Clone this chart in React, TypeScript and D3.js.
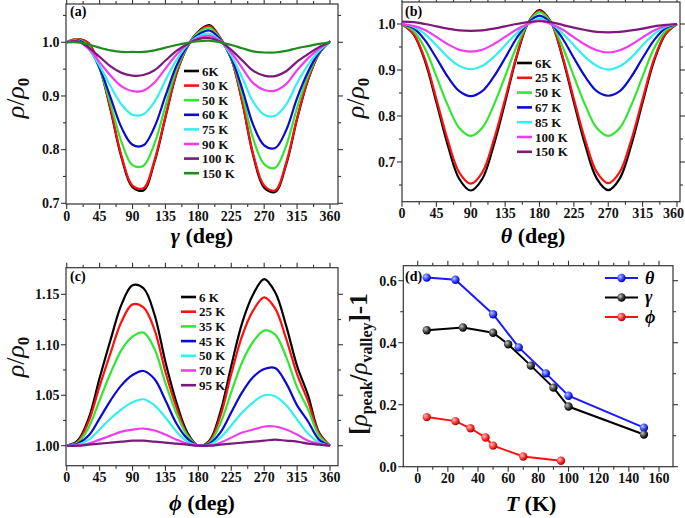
import React from 'react';
import * as d3 from 'd3';

// ---------- DATA ----------
const ANGLES = [0, 15, 30, 45, 60, 75, 90, 105, 120, 135, 150, 165, 180, 195, 210, 225, 240, 255, 270, 285, 300, 315, 330, 345, 360];
const ANGLE_TICKS = [0, 45, 90, 135, 180, 225, 270, 315, 360];
const ANGLE_MINOR = [22.5, 67.5, 112.5, 157.5, 202.5, 247.5, 292.5, 337.5];

// panel (a): rho/rho0 vs gamma
const A_LABELS = ['6K', '30 K', '50 K', '60 K', '75 K', '90 K', '100 K', '150 K'];
const A_COLORS = ['#000000', '#ff1010', '#33e633', '#0a0ad2', '#33f0f0', '#f03cf0', '#7a1a7a', '#1e8c1e'];
const a6 = [1.000, 1.006, 0.998, 0.953, 0.874, 0.785, 0.730, 0.724, 0.777, 0.860, 0.941, 0.992, 1.020, 1.032, 1.008, 0.969, 0.889, 0.789, 0.729, 0.721, 0.772, 0.857, 0.930, 0.979, 1.002];
const a30 = [1.000, 1.006, 0.998, 0.954, 0.876, 0.788, 0.733, 0.728, 0.780, 0.862, 0.942, 0.992, 1.019, 1.030, 1.008, 0.969, 0.890, 0.792, 0.733, 0.724, 0.775, 0.859, 0.931, 0.979, 1.002];
const a50 = [1.000, 1.005, 0.993, 0.951, 0.885, 0.814, 0.771, 0.770, 0.811, 0.881, 0.949, 0.992, 1.018, 1.027, 1.006, 0.970, 0.902, 0.820, 0.773, 0.766, 0.807, 0.878, 0.938, 0.980, 1.002];
const a60 = [1.000, 1.004, 0.990, 0.952, 0.897, 0.841, 0.809, 0.808, 0.842, 0.900, 0.956, 0.993, 1.014, 1.022, 1.005, 0.971, 0.913, 0.846, 0.808, 0.803, 0.836, 0.896, 0.945, 0.981, 1.002];
const a75 = [1.000, 1.003, 0.987, 0.956, 0.918, 0.884, 0.865, 0.866, 0.889, 0.929, 0.967, 0.995, 1.011, 1.016, 1.003, 0.975, 0.934, 0.889, 0.865, 0.863, 0.884, 0.924, 0.958, 0.984, 1.001];
const a90 = [1.000, 1.002, 0.988, 0.963, 0.938, 0.918, 0.909, 0.910, 0.925, 0.951, 0.977, 0.996, 1.008, 1.012, 1.002, 0.981, 0.952, 0.924, 0.911, 0.910, 0.922, 0.948, 0.970, 0.988, 1.001];
const a100 = [1.000, 1.002, 0.990, 0.973, 0.955, 0.943, 0.938, 0.939, 0.948, 0.966, 0.984, 0.997, 1.006, 1.008, 1.001, 0.986, 0.966, 0.947, 0.938, 0.937, 0.946, 0.964, 0.978, 0.991, 1.000];
const a150 = [1.000, 1.000, 0.996, 0.990, 0.985, 0.982, 0.982, 0.982, 0.985, 0.990, 0.995, 0.999, 1.002, 1.003, 1.000, 0.995, 0.989, 0.983, 0.981, 0.981, 0.984, 0.989, 0.993, 0.997, 1.000];
const A_VALUES = [a6, a30, a50, a60, a75, a90, a100, a150];
const A_YTICKS = [0.7, 0.8, 0.9, 1.0];
const A_YMINOR = [0.75, 0.85, 0.95, 1.05];

// panel (b): rho/rho0 vs theta
const B_LABELS = ['6K', '25 K', '50 K', '67 K', '85 K', '100 K', '150 K'];
const B_COLORS = ['#000000', '#ff1010', '#33e633', '#0a0ad2', '#33f0f0', '#f03cf0', '#7a1a7a'];
const b6 = [1.000, 0.978, 0.920, 0.830, 0.736, 0.663, 0.638, 0.663, 0.736, 0.830, 0.928, 1.002, 1.030, 1.004, 0.928, 0.830, 0.736, 0.664, 0.639, 0.664, 0.736, 0.830, 0.920, 0.978, 1.000];
const b25 = [1.000, 0.979, 0.924, 0.837, 0.747, 0.677, 0.653, 0.677, 0.747, 0.837, 0.931, 1.003, 1.028, 1.004, 0.931, 0.837, 0.747, 0.678, 0.654, 0.678, 0.747, 0.837, 0.924, 0.979, 1.000];
const b50 = [1.000, 0.985, 0.947, 0.886, 0.823, 0.774, 0.757, 0.774, 0.823, 0.886, 0.951, 1.002, 1.026, 1.003, 0.951, 0.886, 0.823, 0.774, 0.757, 0.774, 0.823, 0.886, 0.947, 0.985, 1.000];
const b67 = [1.000, 0.991, 0.965, 0.926, 0.885, 0.854, 0.843, 0.854, 0.885, 0.926, 0.969, 1.002, 1.018, 1.002, 0.969, 0.926, 0.885, 0.854, 0.844, 0.854, 0.885, 0.926, 0.965, 0.991, 1.000];
const b85 = [1.000, 0.994, 0.978, 0.954, 0.928, 0.909, 0.902, 0.909, 0.928, 0.954, 0.980, 1.001, 1.012, 1.001, 0.980, 0.954, 0.928, 0.909, 0.901, 0.908, 0.927, 0.954, 0.978, 0.994, 1.000];
const b100 = [1.000, 0.996, 0.987, 0.972, 0.956, 0.944, 0.940, 0.944, 0.956, 0.972, 0.988, 1.000, 1.008, 1.000, 0.988, 0.971, 0.955, 0.943, 0.938, 0.943, 0.955, 0.971, 0.986, 0.996, 1.000];
const b150 = [1.005, 1.004, 1.000, 0.995, 0.990, 0.986, 0.985, 0.986, 0.990, 0.995, 1.000, 1.004, 1.006, 1.004, 0.998, 0.992, 0.987, 0.983, 0.982, 0.983, 0.986, 0.990, 0.995, 0.998, 1.000];
const B_VALUES = [b6, b25, b50, b67, b85, b100, b150];
const B_YTICKS = [0.7, 0.8, 0.9, 1.0];
const B_YMINOR = [0.65, 0.75, 0.85, 0.95];

// panel (c): rho/rho0 vs phi
const C_LABELS = ['6 K', '25 K', '35 K', '45 K', '50 K', '70 K', '95 K'];
const C_COLORS = ['#000000', '#ff1010', '#33e633', '#0a0ad2', '#33f0f0', '#f03cf0', '#7a1a7a'];
const c6 = [1.000, 1.005, 1.027, 1.067, 1.105, 1.140, 1.159, 1.156, 1.130, 1.083, 1.043, 1.013, 1.000, 1.005, 1.033, 1.079, 1.122, 1.150, 1.165, 1.152, 1.119, 1.079, 1.050, 1.013, 1.000];
const c25 = [1.000, 1.004, 1.024, 1.059, 1.092, 1.123, 1.140, 1.137, 1.115, 1.073, 1.038, 1.011, 1.000, 1.004, 1.029, 1.071, 1.109, 1.134, 1.147, 1.136, 1.106, 1.071, 1.044, 1.012, 1.000];
const c35 = [1.000, 1.003, 1.018, 1.045, 1.072, 1.095, 1.108, 1.112, 1.096, 1.062, 1.032, 1.010, 1.000, 1.003, 1.022, 1.053, 1.083, 1.103, 1.114, 1.110, 1.088, 1.058, 1.036, 1.010, 1.000];
const c45 = [1.000, 1.002, 1.010, 1.027, 1.045, 1.060, 1.070, 1.074, 1.066, 1.045, 1.022, 1.007, 1.000, 1.002, 1.013, 1.033, 1.053, 1.068, 1.076, 1.077, 1.062, 1.040, 1.024, 1.006, 1.000];
const c50 = [1.000, 1.001, 1.006, 1.016, 1.027, 1.036, 1.043, 1.046, 1.040, 1.028, 1.014, 1.004, 1.000, 1.001, 1.008, 1.020, 1.033, 1.043, 1.050, 1.049, 1.040, 1.026, 1.012, 1.003, 1.000];
const c70 = [1.000, 1.000, 1.002, 1.006, 1.010, 1.014, 1.016, 1.017, 1.015, 1.011, 1.006, 1.002, 1.000, 1.000, 1.003, 1.008, 1.013, 1.016, 1.019, 1.019, 1.016, 1.011, 1.005, 1.002, 1.000];
const c95 = [1.000, 1.000, 1.001, 1.002, 1.003, 1.004, 1.005, 1.005, 1.004, 1.003, 1.002, 1.001, 1.000, 1.000, 1.001, 1.002, 1.003, 1.004, 1.005, 1.006, 1.005, 1.004, 1.002, 1.001, 1.000];
const C_VALUES = [c6, c25, c35, c45, c50, c70, c95];
const C_YTICKS = [1.0, 1.05, 1.1, 1.15];
const C_YMINOR = [1.025, 1.075, 1.125];

// panel (d): anisotropy vs T
const D_T_THETA = [6, 25, 50, 67, 85, 100, 150];
const D_THETA = [0.610, 0.603, 0.492, 0.385, 0.301, 0.229, 0.126];
const D_T_GAMMA = [6, 30, 50, 60, 75, 90, 100, 150];
const D_GAMMA = [0.440, 0.449, 0.432, 0.395, 0.326, 0.255, 0.194, 0.104];
const D_T_PHI = [6, 25, 35, 45, 50, 70, 95];
const D_PHI = [0.160, 0.147, 0.124, 0.094, 0.068, 0.033, 0.019];
const D_XTICKS = [0, 20, 40, 60, 80, 100, 120, 140, 160];
const D_XMINOR = [-10, 10, 30, 50, 70, 90, 110, 130, 150];
const D_YTICKS = [0, 0.2, 0.4, 0.6];
const D_YMINOR = [0.1, 0.3, 0.5];

// ---------- STYLE ----------
const FONT = 'Liberation Serif, Times New Roman, DejaVu Serif, serif';
const FRAME = '#333333';

type Frame = { l: number; r: number; t: number; b: number };

function Axes({ f, x, y, xMajor, xMinor, yMajor, yMinor, xFmt, yFmt, lastEnd }: any) {
  const M = 5, m = 3;
  const inX = (v: number) => x(v) >= f.l - 0.5 && x(v) <= f.r + 0.5;
  const inY = (v: number) => y(v) >= f.t - 0.5 && y(v) <= f.b + 0.5;
  const els: any[] = [];
  xMajor.filter(inX).forEach((v: number, i: number) => {
    const px = x(v);
    els.push(<line key={'xb' + i} x1={px} x2={px} y1={f.b} y2={f.b + M} />);
    els.push(<line key={'xt' + i} x1={px} x2={px} y1={f.t} y2={f.t - M} />);
  });
  xMinor.filter(inX).forEach((v: number, i: number) => {
    const px = x(v);
    els.push(<line key={'xbm' + i} x1={px} x2={px} y1={f.b} y2={f.b + m} />);
    els.push(<line key={'xtm' + i} x1={px} x2={px} y1={f.t} y2={f.t - m} />);
  });
  yMajor.filter(inY).forEach((v: number, i: number) => {
    const py = y(v);
    els.push(<line key={'yl' + i} x1={f.l} x2={f.l - M} y1={py} y2={py} />);
    els.push(<line key={'yr' + i} x1={f.r} x2={f.r + M} y1={py} y2={py} />);
  });
  yMinor.filter(inY).forEach((v: number, i: number) => {
    const py = y(v);
    els.push(<line key={'ylm' + i} x1={f.l} x2={f.l - m} y1={py} y2={py} />);
    els.push(<line key={'yrm' + i} x1={f.r} x2={f.r + m} y1={py} y2={py} />);
  });
  const xs = xMajor.filter(inX);
  return (
    <g>
      <g stroke={FRAME} strokeWidth={1.1}>{els}</g>
      <rect x={f.l} y={f.t} width={f.r - f.l} height={f.b - f.t} fill="none" stroke={FRAME} strokeWidth={1.2} />
      <g style={{ fontFamily: FONT }} fontWeight="bold" fontSize={14} fill="#111">
        {xs.map((v: number, i: number) => {
          const last = lastEnd && i === xs.length - 1;
          return (
            <text key={'xl' + i} x={last ? lastEnd : x(v)} y={f.b + 16.5} textAnchor={last ? 'end' : 'middle'}>{xFmt(v)}</text>
          );
        })}
        {yMajor.filter(inY).map((v: number, i: number) => (
          <text key={'yl' + i} x={f.l - 6.5} y={y(v) + 4.8} textAnchor="end">{yFmt(v)}</text>
        ))}
      </g>
    </g>
  );
}

function Legend({ x, y, dy, labels, colors }: any) {
  return (
    <g style={{ fontFamily: FONT }} fontWeight="bold" fontSize={13} fill="#111">
      {labels.map((lab: string, i: number) => (
        <g key={i}>
          <line x1={x} x2={x + 15} y1={y + i * dy} y2={y + i * dy} stroke={colors[i]} strokeWidth={2.6} />
          <text x={x + 18} y={y + i * dy + 4.5}>{lab}</text>
        </g>
      ))}
    </g>
  );
}

function Curves({ x, y, values, colors }: any) {
  const line = d3.line<number>()
    .x((_, i) => x(ANGLES[i]))
    .y((v) => y(v))
    .curve(d3.curveCatmullRom.alpha(0.5));
  return (
    <g fill="none" strokeWidth={2.2} strokeLinejoin="round">
      {values.map((vals: number[], i: number) => (
        <path key={i} d={line(vals) || ''} stroke={colors[i]} />
      ))}
    </g>
  );
}

function RhoTitle({ x, y }: any) {
  return (
    <text transform={`translate(${x},${y}) rotate(-90)`} textAnchor="middle" style={{ fontFamily: FONT }} fontSize={26} fill="#111">
      <tspan fontStyle="italic">ρ</tspan>
      <tspan>/</tspan>
      <tspan fontStyle="italic">ρ</tspan>
      <tspan fontSize={17} dy={5} fontWeight="bold">0</tspan>
    </text>
  );
}

export default function App() {
  const fA: Frame = { l: 66, r: 338, t: 4, b: 204 };
  const xA = d3.scaleLinear().domain([0, 360]).range([66.7, 330]);
  const yA = d3.scaleLinear().domain([0.7, 1.0]).range([203.3, 42.3]);

  const fB: Frame = { l: 402, r: 680, t: 2, b: 201.7 };
  const xB = d3.scaleLinear().domain([0, 360]).range([402, 677]);
  const yB = d3.scaleLinear().domain([0.7, 1.0]).range([162, 24]);

  const fC: Frame = { l: 66, r: 338, t: 267.7, b: 465.7 };
  const xC = d3.scaleLinear().domain([0, 360]).range([66.7, 330]);
  const yC = d3.scaleLinear().domain([1.0, 1.15]).range([445.7, 294.3]);

  const fD: Frame = { l: 403.3, r: 673, t: 265.7, b: 466.7 };
  const xD = d3.scaleLinear().domain([0, 160]).range([417.7, 659]);
  const yD = d3.scaleLinear().domain([0, 0.6]).range([466.7, 280.7]);

  const f1 = d3.format('.1f');
  const f2 = d3.format('.2f');
  const fi = d3.format('d');

  const dSeries = [
    { T: D_T_THETA, v: D_THETA, color: '#1a1aff', grad: 'gBlue', label: 'θ' },
    { T: D_T_GAMMA, v: D_GAMMA, color: '#000000', grad: 'gBlack', label: 'γ' },
    { T: D_T_PHI, v: D_PHI, color: '#ff1010', grad: 'gRed', label: 'ϕ' },
  ];
  const dLine = (T: number[]) => d3.line<number>().x((_, i) => xD(T[i])).y((v) => yD(v));

  return (
    <svg width={685} height={518} style={{ position: 'absolute', left: 0, top: 0, background: '#fff' }}>
      <defs>
        <radialGradient id="gBlue" cx="35%" cy="35%" r="65%">
          <stop offset="0%" stopColor="#b8c8ff" />
          <stop offset="55%" stopColor="#3a4cff" />
          <stop offset="100%" stopColor="#0000b0" />
        </radialGradient>
        <radialGradient id="gBlack" cx="35%" cy="35%" r="65%">
          <stop offset="0%" stopColor="#c8c8c8" />
          <stop offset="55%" stopColor="#444" />
          <stop offset="100%" stopColor="#000" />
        </radialGradient>
        <radialGradient id="gRed" cx="35%" cy="35%" r="65%">
          <stop offset="0%" stopColor="#ffc0c0" />
          <stop offset="55%" stopColor="#ff3a3a" />
          <stop offset="100%" stopColor="#b00000" />
        </radialGradient>
      </defs>

      {/* Panel (a) */}
      <Axes f={fA} x={xA} y={yA} xMajor={ANGLE_TICKS} xMinor={ANGLE_MINOR} yMajor={A_YTICKS} yMinor={A_YMINOR} xFmt={fi} yFmt={f1} />
      <Curves x={xA} y={yA} values={A_VALUES} colors={A_COLORS} />
      <Legend x={184} y={71} dy={14.6} labels={A_LABELS} colors={A_COLORS} />
      <text x={70} y={16} style={{ fontFamily: FONT }} fontWeight="bold" fontSize={14}>(a)</text>
      <RhoTitle x={24} y={98} />
      <text x={202} y={243} textAnchor="middle" style={{ fontFamily: FONT }} fontWeight="bold" fontSize={22}>
        <tspan fontStyle="italic">γ</tspan> (deg)
      </text>

      {/* Panel (b) */}
      <Axes f={fB} x={xB} y={yB} xMajor={ANGLE_TICKS} xMinor={ANGLE_MINOR} yMajor={B_YTICKS} yMinor={B_YMINOR} xFmt={fi} yFmt={f1} lastEnd={684} />
      <Curves x={xB} y={yB} values={B_VALUES} colors={B_COLORS} />
      <Legend x={517} y={63} dy={14.8} labels={B_LABELS} colors={B_COLORS} />
      <text x={405} y={16} style={{ fontFamily: FONT }} fontWeight="bold" fontSize={14}>(b)</text>
      <RhoTitle x={364} y={98} />
      <text x={533} y={243} textAnchor="middle" style={{ fontFamily: FONT }} fontWeight="bold" fontSize={22}>
        <tspan fontStyle="italic">θ</tspan> (deg)
      </text>

      {/* Panel (c) */}
      <Axes f={fC} x={xC} y={yC} xMajor={ANGLE_TICKS} xMinor={ANGLE_MINOR} yMajor={C_YTICKS} yMinor={C_YMINOR} xFmt={fi} yFmt={f2} />
      <Curves x={xC} y={yC} values={C_VALUES} colors={C_COLORS} />
      <Legend x={181} y={297} dy={14.7} labels={C_LABELS} colors={C_COLORS} />
      <text x={70} y={281} style={{ fontFamily: FONT }} fontWeight="bold" fontSize={14}>(c)</text>
      <RhoTitle x={24} y={357} />
      <text x={202} y={510} textAnchor="middle" style={{ fontFamily: FONT }} fontWeight="bold" fontSize={22}>
        <tspan fontStyle="italic">ϕ</tspan> (deg)
      </text>

      {/* Panel (d) */}
      <Axes f={fD} x={xD} y={yD} xMajor={D_XTICKS} xMinor={D_XMINOR} yMajor={D_YTICKS} yMinor={D_YMINOR} xFmt={fi} yFmt={f1} />
      {dSeries.map((s, k) => (
        <g key={k}>
          <path d={dLine(s.T)(s.v) || ''} fill="none" stroke={s.color} strokeWidth={2} />
          {s.v.map((v, i) => (
            <circle key={i} cx={xD(s.T[i])} cy={yD(v)} r={4.2} fill={`url(#${s.grad})`} />
          ))}
        </g>
      ))}
      <g style={{ fontFamily: FONT }} fontSize={18} fontStyle="italic" fontWeight="bold">
        {dSeries.map((s, k) => (
          <g key={k}>
            <line x1={605} x2={638} y1={278 + k * 19.5} y2={278 + k * 19.5} stroke={s.color} strokeWidth={2} />
            <circle cx={621.5} cy={278 + k * 19.5} r={4.2} fill={`url(#${s.grad})`} />
            <text x={645} y={278 + k * 19.5 + 5.5}>{s.label}</text>
          </g>
        ))}
      </g>
      <text x={405} y={281} style={{ fontFamily: FONT }} fontWeight="bold" fontSize={14}>(d)</text>
      <text transform="translate(367,364) rotate(-90)" textAnchor="middle" style={{ fontFamily: FONT }} fontWeight="bold" fontSize={25} fill="#111">
        <tspan>[</tspan>
        <tspan fontStyle="italic" fontWeight="normal">ρ</tspan>
        <tspan fontSize={16} dy={5}>peak</tspan>
        <tspan dy={-5}>/</tspan>
        <tspan fontStyle="italic" fontWeight="normal">ρ</tspan>
        <tspan fontSize={16} dy={5}>valley</tspan>
        <tspan dy={-5}>]-1</tspan>
      </text>
      <text x={531} y={511} textAnchor="middle" style={{ fontFamily: FONT }} fontWeight="bold" fontSize={22}>
        <tspan fontStyle="italic">T</tspan> (K)
      </text>
    </svg>
  );
}
